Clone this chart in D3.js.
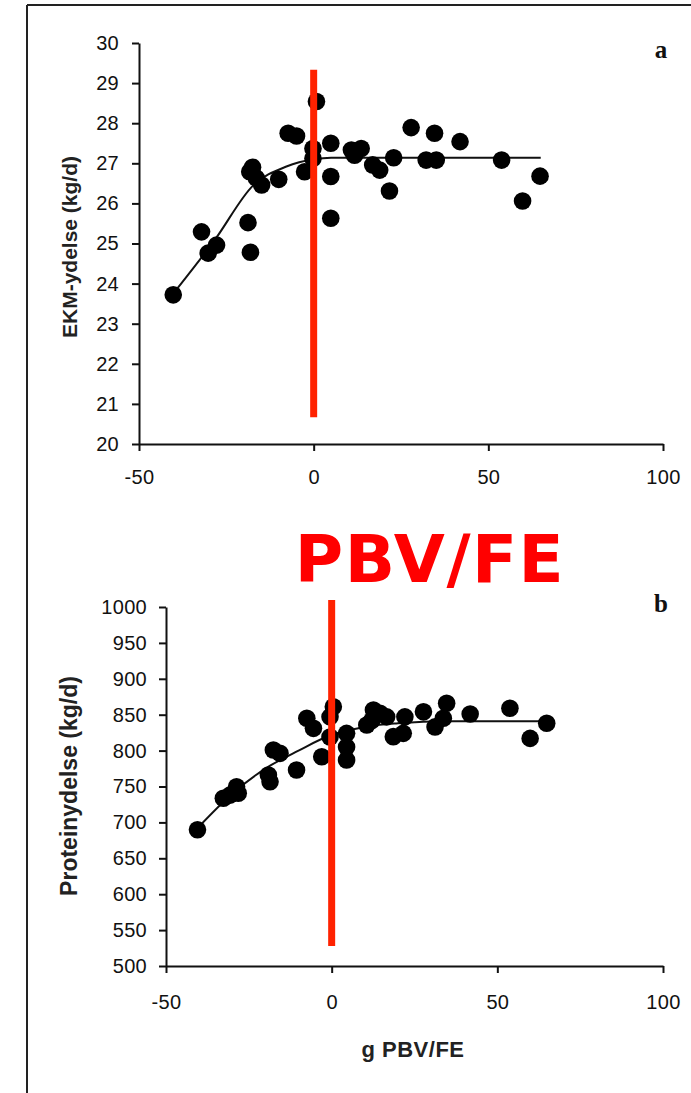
<!DOCTYPE html>
<html>
<head>
<meta charset="utf-8">
<script src="https://cdn.jsdelivr.net/npm/d3@7"></script>
<style>
  body { margin: 0; background: #fff; }
  svg { display: block; }
  .tick text { font-family: "Liberation Sans", Arial, sans-serif; font-size: 20px; fill: #111; letter-spacing: 0.3px; }
  .domain, .tick line { stroke: #111; stroke-width: 2; }
</style>
</head>
<body>
<svg id="chart" width="691" height="1093"></svg>
<script>
// panel a: EKM-ydelse vs g PBV/FE
const ekmPoints = [
  [-40.2, 23.72], [-32.1, 25.29], [-30.2, 24.76], [-27.8, 24.96], [-18.8, 25.52],
  [-18.1, 24.78], [-17.5, 26.9], [-18.3, 26.79], [-16.4, 26.63], [-14.9, 26.46],
  [-10, 26.6], [-7.3, 27.75], [-4.9, 27.68], [-2.6, 26.79], [-0.2, 27.37],
  [-0.2, 27.12], [0.8, 28.54], [4.9, 27.5], [4.9, 26.67], [4.9, 25.63],
  [11.7, 27.2], [13.6, 27.37], [10.8, 27.33], [16.9, 26.96], [18.9, 26.83],
  [22.9, 27.14], [21.7, 26.31], [27.9, 27.89], [32.2, 27.08], [35.1, 27.08],
  [34.6, 27.75], [41.9, 27.54], [53.8, 27.08], [59.8, 26.06], [64.8, 26.68]
];
const ekmCurve = [[-40.2, 23.75], [-28.3, 25.09], [-17.3, 26.45], [-7.8, 26.92], [0, 27.1], [5, 27.14], [65, 27.14]];
const ekmTicks = [20, 21, 22, 23, 24, 25, 26, 27, 28, 29, 30];

// panel b: Proteinydelse vs g PBV/FE
const proteinPoints = [
  [-40.5, 689.7], [-32.7, 733.7], [-30.7, 738], [-28.7, 749.7], [-28.2, 740.5],
  [-18.6, 756.7], [-19.1, 766], [-17.6, 800.8], [-15.6, 796.2], [-10.6, 773],
  [-7.5, 845], [-5.5, 831], [-3, 791.5], [0.5, 861], [-0.5, 847],
  [-0.5, 819], [4.5, 824], [4.5, 805], [4.5, 787], [10.6, 835.6],
  [12.6, 856.5], [16.6, 847], [18.6, 819.4], [22.1, 847], [21.6, 824],
  [27.7, 854], [31.2, 833], [33.7, 845], [34.7, 866], [41.8, 851],
  [53.8, 859], [59.9, 817], [64.9, 838], [12.1, 842], [14.6, 852]
];
const proteinCurve = [[-40.5, 692], [-30, 740], [-20, 775], [-10, 800], [0, 822], [10, 833], [20, 838], [35, 841], [65, 841]];
const proteinTicks = [500, 550, 600, 650, 700, 750, 800, 850, 900, 950, 1000];

const xTicks = [-50, 0, 50, 100];

const svg = d3.select("#chart");

// frame
svg.append("line").attr("x1", 27).attr("y1", 5).attr("x2", 691).attr("y2", 5)
  .attr("stroke", "#222").attr("stroke-width", 2);
svg.append("line").attr("x1", 27).attr("y1", 5).attr("x2", 27).attr("y2", 1093)
  .attr("stroke", "#222").attr("stroke-width", 2);

function drawPanel(opt) {
  const x = d3.scaleLinear().domain([-50, 100]).range(opt.xRange);
  const y = d3.scaleLinear().domain(opt.yDomain).range(opt.yRange);

  const g = svg.append("g");

  g.append("g")
    .attr("transform", `translate(0,${opt.yRange[0]})`)
    .call(d3.axisBottom(x).tickValues(xTicks).tickFormat(d => String(d))
      .tickSize(7).tickSizeOuter(0).tickPadding(opt.xPad));

  g.append("g")
    .attr("transform", `translate(${opt.xRange[0]},0)`)
    .call(d3.axisLeft(y).tickValues(opt.yTicks).tickFormat(d => String(d))
      .tickSize(7).tickSizeOuter(0).tickPadding(opt.yPad));

  g.append("text")
    .attr("transform", `translate(${opt.labelX},${opt.labelY}) rotate(-90)`)
    .attr("text-anchor", "middle")
    .attr("font-family", "Liberation Sans, Arial, sans-serif")
    .attr("font-weight", "bold")
    .attr("font-size", opt.labelSize)
    .attr("fill", "#222")
    .text(opt.label);

  const line = d3.line().x(d => x(d[0])).y(d => y(d[1])).curve(d3.curveMonotoneX);
  g.append("path")
    .datum(opt.curve)
    .attr("d", line)
    .attr("fill", "none")
    .attr("stroke", "#111")
    .attr("stroke-width", 2);

  g.selectAll("circle")
    .data(opt.points)
    .join("circle")
    .attr("cx", d => x(d[0]))
    .attr("cy", d => y(d[1]))
    .attr("r", 8.8)
    .attr("fill", "#000");

  g.append("line")
    .attr("x1", x(0)).attr("x2", x(0))
    .attr("y1", y(opt.redTop)).attr("y2", y(opt.redBottom))
    .attr("stroke", "#ff2200")
    .attr("stroke-width", 7);

  g.append("text")
    .attr("x", 661).attr("y", opt.letterY)
    .attr("text-anchor", "middle")
    .attr("font-family", "Liberation Serif, Times New Roman, serif")
    .attr("font-weight", "bold")
    .attr("font-size", 25)
    .attr("fill", "#111")
    .text(opt.letter);
}

drawPanel({
  xRange: [139, 663], yDomain: [20, 30], yRange: [444, 43],
  yTicks: ekmTicks, xPad: 19, yPad: 13,
  points: ekmPoints, curve: ekmCurve,
  label: "EKM-ydelse (kg/d)", labelX: 77, labelY: 247, labelSize: 21,
  redTop: 29.33, redBottom: 20.67,
  letter: "a", letterY: 58
});

drawPanel({
  xRange: [166, 663], yDomain: [500, 1000], yRange: [966, 607],
  yTicks: proteinTicks, xPad: 22, yPad: 12,
  points: proteinPoints, curve: proteinCurve,
  label: "Proteinydelse (kg/d)", labelX: 77, labelY: 786, labelSize: 23,
  redTop: 1009.7, redBottom: 527.9,
  letter: "b", letterY: 612
});

svg.append("text")
  .attr("x", 413).attr("y", 1057)
  .attr("text-anchor", "middle")
  .attr("font-family", "Liberation Sans, Arial, sans-serif")
  .attr("font-weight", "bold")
  .attr("font-size", 22)
  .attr("letter-spacing", 0.5)
  .attr("fill", "#222")
  .text("g PBV/FE");

svg.append("text")
  .attr("x", 430).attr("y", 582)
  .attr("text-anchor", "middle")
  .attr("font-family", "DejaVu Sans, sans-serif")
  .attr("font-weight", "bold")
  .attr("font-size", 66)
  .attr("letter-spacing", 1.5)
  .attr("fill", "#ff0000")
  .text("PBV/FE");
</script>
</body>
</html>
